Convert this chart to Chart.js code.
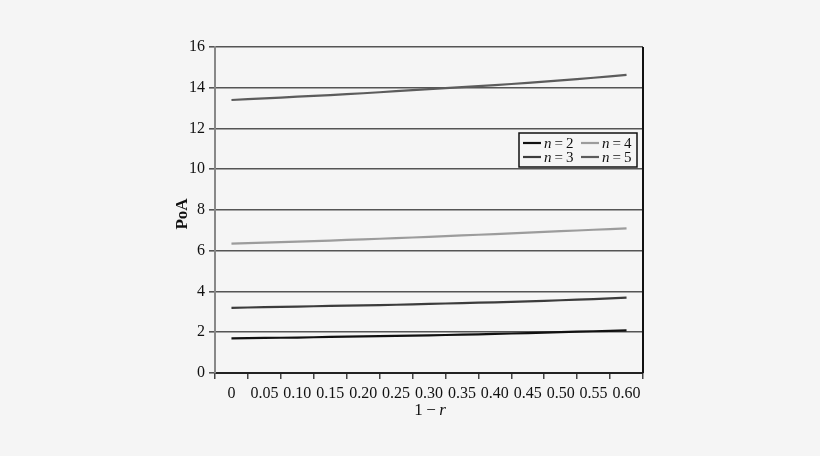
<!DOCTYPE html>
<html>
<head>
<meta charset="utf-8">
<script src="https://cdn.jsdelivr.net/npm/chart.js@4/dist/chart.umd.min.js"></script>
<style>
  html,body{margin:0;padding:0;background:#f5f5f5;}
  #wrap{width:820px;height:456px;position:relative;}
</style>
</head>
<body>
<div id="wrap"><canvas id="c" width="820" height="456"></canvas></div>
<script>
// 1 - r categories
const xLabels=["0","0.05","0.10","0.15","0.20","0.25","0.30","0.35","0.40","0.45","0.50","0.55","0.60"];
const n2=[1.70,1.72,1.74,1.77,1.80,1.82,1.85,1.88,1.92,1.96,2.01,2.05,2.09];
const n3=[3.20,3.23,3.26,3.29,3.32,3.35,3.39,3.43,3.47,3.52,3.57,3.63,3.70];
const n4=[6.35,6.40,6.45,6.50,6.56,6.62,6.68,6.75,6.82,6.89,6.96,7.03,7.10];
const n5=[13.40,13.48,13.56,13.64,13.73,13.83,13.93,14.03,14.13,14.24,14.36,14.49,14.63];
const seriesNames=["2","3","4","5"];
const yTicks=[0,2,4,6,8,10,12,14,16];

const SERIF="'Liberation Serif','Times New Roman',serif";

// legend, titles and right border drawn by hand (italic n, italic r)
const frame={
  id:"frame",
  afterDraw(chart){
    const {ctx,chartArea:a}=chart;
    ctx.save();
    ctx.strokeStyle="#111";ctx.lineWidth=2;
    ctx.beginPath();ctx.moveTo(a.right,a.top);ctx.lineTo(a.right,a.bottom);ctx.stroke();

    // legend box
    const bx=519,by=133,bw=118,bh=34;
    ctx.fillStyle="#f5f5f5";ctx.fillRect(bx,by,bw,bh);
    ctx.strokeStyle="#111";ctx.lineWidth=1.5;ctx.strokeRect(bx,by,bw,bh);
    const order=[0,2,1,3]; // n=2, n=4 / n=3, n=5
    order.forEach((di,k)=>{
      const ds=chart.data.datasets[di];
      const col=k%2, row=Math.floor(k/2);
      const x=bx+4+col*58, y=by+10+row*14;
      ctx.strokeStyle=ds.borderColor;ctx.lineWidth=2.2;
      ctx.beginPath();ctx.moveTo(x,y);ctx.lineTo(x+18,y);ctx.stroke();
      ctx.fillStyle="#111";ctx.textBaseline="middle";
      ctx.font="italic 15px "+SERIF;
      ctx.fillText("n",x+21,y+1);
      const w=ctx.measureText("n").width;
      ctx.font="15px "+SERIF;
      ctx.fillText("\u2009=\u2009"+seriesNames[di],x+21+w,y+1);
    });

    // x title: 1 − r
    ctx.fillStyle="#111";ctx.textBaseline="alphabetic";
    const t1="1\u2009\u2212\u2009";
    ctx.font="17px "+SERIF;const w1=ctx.measureText(t1).width;
    ctx.font="italic 17px "+SERIF;const w2=ctx.measureText("r").width;
    const cx=430-(w1+w2)/2;
    ctx.font="17px "+SERIF;ctx.fillText(t1,cx,415);
    ctx.font="italic 17px "+SERIF;ctx.fillText("r",cx+w1,415);

    // y title
    ctx.translate(183,214);ctx.rotate(-Math.PI/2);
    ctx.textAlign="center";ctx.textBaseline="middle";
    ctx.font="bold 17px "+SERIF;ctx.fillText("PoA",0,0);
    ctx.restore();
  }
};

function mk(label,data,color){
  return {label:"n = "+label,data:data,borderColor:color,borderWidth:2.2,pointRadius:0,fill:false,tension:0.3};
}

new Chart(document.getElementById("c"),{
  type:"line",
  data:{
    labels:xLabels,
    datasets:[mk(seriesNames[0],n2,"#111111"),mk(seriesNames[1],n3,"#3c3c3c"),mk(seriesNames[2],n4,"#9c9c9c"),mk(seriesNames[3],n5,"#5c5c5c")]
  },
  options:{
    responsive:false,animation:false,
    layout:{padding:{top:47,right:177,left:0,bottom:0}},
    plugins:{legend:{display:false},tooltip:{enabled:false}},
    scales:{
      x:{
        type:"category",offset:true,
        grid:{offset:true,drawOnChartArea:false,drawTicks:true,tickLength:6,color:"#444",lineWidth:1.5},
        border:{display:true,color:"#222",width:2},
        ticks:{color:"#111",font:{family:SERIF,size:16},padding:5,maxRotation:0,autoSkip:false},
        afterFit(s){s.height=83;}
      },
      y:{
        min:0,max:16,
        afterBuildTicks(s){s.ticks=yTicks.map(v=>({value:v}));},
        grid:{color:"#555",lineWidth:1.6,tickLength:6,drawTicks:true},
        border:{display:true,color:"#888",width:2},
        ticks:{color:"#111",font:{family:SERIF,size:16},padding:4},
        afterFit(s){s.width=215;}
      }
    }
  },
  plugins:[frame]
});
</script>
</body>
</html>
